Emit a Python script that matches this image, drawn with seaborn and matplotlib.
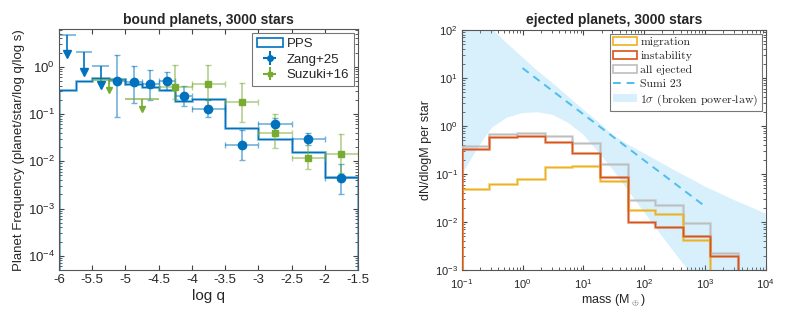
import numpy as np
import matplotlib
matplotlib.use("Agg")
import matplotlib.pyplot as plt
import seaborn as sns
from matplotlib.patches import Patch
from matplotlib.lines import Line2D

# ---- left panel: bound planets ----
pps_edges = [-6, -5.75, -5.5, -5.25, -5, -4.75, -4.5, -4.25, -4, -3.5, -3, -2.5, -2, -1.5]
pps_freq = [0.33, 0.50, 0.57, 0.54, 0.43, 0.37, 0.33, 0.19, 0.21, 0.050, 0.0296, 0.0155, 0.0046]

zang_logq = [-5.125, -4.875, -4.625, -4.375, -4.125, -3.75, -3.25, -2.75, -2.25, -1.75]
zang_freq = [0.50, 0.47, 0.44, 0.51, 0.24, 0.13, 0.022, 0.061, 0.030, 0.0044]
zang_hi = [1.77, 1.05, 0.85, 0.77, 0.40, 0.20, 0.046, 0.081, 0.040, 0.0087]
zang_lo = [0.088, 0.17, 0.20, 0.33, 0.15, 0.088, 0.0106, 0.044, 0.022, 0.0020]
zang_dx = [0.125, 0.125, 0.125, 0.125, 0.125, 0.25, 0.25, 0.25, 0.25, 0.25]

zang_lim_logq = [-5.875, -5.625, -5.375]
zang_lim_top = [4.8, 2.07, 1.05]
zang_lim_tip = [1.9, 0.78, 0.41]

suzuki_logq = [-4.25, -3.75, -3.25, -2.75, -2.25, -1.75]
suzuki_freq = [0.37, 0.44, 0.18, 0.039, 0.012, 0.0143]
suzuki_hi = [1.10, 1.10, 0.445, 0.10, 0.029, 0.037]
suzuki_lo = [0.21, 0.12, 0.067, 0.019, 0.0068, 0.0056]

suzuki_lim_logq = [-5.25, -4.75]
suzuki_lim_top = [0.52, 0.21]
suzuki_lim_tip = [0.33, 0.125]

# ---- right panel: ejected planets ----
mass_edges = [0.1, 0.285, 0.811, 2.31, 6.58, 18.7, 53.4, 152, 433, 1233, 3511, 10000]
migration = [0.049, 0.061, 0.080, 0.14, 0.147, 0.070, 0.0178, 0.0147, 0.0042, 0, 0]
instability = [0.33, 0.59, 0.63, 0.47, 0.28, 0.088, 0.0102, 0.0078, 0.0051, 0.00195, 0]
all_ejected = [0.39, 0.67, 0.71, 0.63, 0.44, 0.16, 0.029, 0.0224, 0.0094, 0.0023, 0]

sumi_mass = [1, 10, 100, 1000]
sumi_dndlogm = [16.1, 1.76, 0.193, 0.0213]

band_mass = [0.1, 0.178, 0.316, 0.562, 1, 1.78, 3.16, 5.62, 10, 17.8, 31.6, 56.2,
             100, 178, 316, 1000, 3162, 10000]
band_lo = [0.095, 0.33, 0.93, 1.5, 1.86, 1.93, 1.7, 1.17, 0.66, 0.28, 0.117, 0.043,
           0.016, 0.006, 0.0023, 0.00035, 5.6e-5, 8e-6]
band_hi = [420, 210, 105, 52, 27, 14, 7.8, 4.1, 2.2, 1.2, 0.63, 0.40,
           0.27, 0.18, 0.12, 0.055, 0.028, 0.015]

sns.set_style("ticks")
plt.rcParams['font.family'] = ['Liberation Sans', 'DejaVu Sans']
plt.rcParams['mathtext.fontset'] = 'cm'
plt.rcParams['axes.unicode_minus'] = False

blue = '#0072BD'
green = '#77AC30'
c_mig = '#EDB120'
c_ins = '#D95319'
c_all = '#BDBDBD'
c_sumi = '#4DBEEE'

fig = plt.figure(figsize=(7.92, 3.21), dpi=100)
ax1 = fig.add_axes([0.0745, 0.1589, 0.3775, 0.7498])
ax2 = fig.add_axes([0.583, 0.1589, 0.3838, 0.7476])

# left
ax1.set_yscale('log')
ax1.stairs(pps_freq, pps_edges, baseline=1e-9, color=blue, lw=2.2, alpha=0.35)
ax1.stairs(pps_freq, pps_edges, baseline=1e-9, color=blue, lw=1.0)

zf = np.array(zang_freq)
ax1.errorbar(zang_logq, zang_freq, xerr=zang_dx,
             yerr=[zf - np.array(zang_lo), np.array(zang_hi) - zf],
             fmt='none', ecolor=blue, alpha=0.55, elinewidth=1.2, capsize=2, capthick=1.0)
ax1.plot(zang_logq, zang_freq, 'o', color=blue, ms=6, zorder=5)

lt = np.array(zang_lim_top)
ax1.errorbar(zang_lim_logq, zang_lim_top, xerr=0.125,
             fmt='none', ecolor=blue, alpha=0.55, elinewidth=1.2, capsize=0)
ax1.errorbar(zang_lim_logq, zang_lim_top, yerr=[lt - np.array(zang_lim_tip), 0 * lt],
             fmt='none', ecolor=blue, elinewidth=1.2, capsize=0)
ax1.plot(zang_lim_logq, zang_lim_tip, 'v', color=blue, ms=5.5)

sf = np.array(suzuki_freq)
ax1.errorbar(suzuki_logq, suzuki_freq, xerr=0.25,
             yerr=[sf - np.array(suzuki_lo), np.array(suzuki_hi) - sf],
             fmt='none', ecolor=green, alpha=0.55, elinewidth=1.2, capsize=2, capthick=1.0)
ax1.plot(suzuki_logq, suzuki_freq, 's', color=green, ms=4, zorder=5)

st = np.array(suzuki_lim_top)
ax1.errorbar(suzuki_lim_logq, suzuki_lim_top, xerr=0.25,
             fmt='none', ecolor=green, alpha=0.75, elinewidth=1.2, capsize=0)
ax1.errorbar(suzuki_lim_logq, suzuki_lim_top, yerr=[st - np.array(suzuki_lim_tip), 0 * st],
             fmt='none', ecolor=green, elinewidth=1.2, capsize=0)
ax1.plot(suzuki_lim_logq, suzuki_lim_tip, 'v', color=green, ms=5)

ax1.set_xlim(-6, -1.5)
ax1.set_ylim(5e-5, 6.2)
ax1.set_xticks(np.arange(-6, -1.4, 0.5))
ax1.set_xticklabels(['-6', '-5.5', '-5', '-4.5', '-4', '-3.5', '-3', '-2.5', '-2', '-1.5'])
ax1.set_xlabel('log q', fontsize=11, labelpad=2)
ax1.set_ylabel('Planet Frequency (planet/star/log q/log s)', fontsize=9.5, labelpad=2)
ax1.set_title('bound planets, 3000 stars', fontsize=10, fontweight='bold', pad=4)

h_pps = Patch(facecolor='white', edgecolor=blue, lw=1.2)
h_zang = ax1.errorbar([], [], xerr=[], yerr=[], fmt='o', color=blue, ms=4,
                      ecolor=blue, capsize=2)
h_suz = ax1.errorbar([], [], xerr=[], yerr=[], fmt='s', color=green, ms=3.5,
                     ecolor=green, capsize=2)
leg1 = ax1.legend([h_pps, h_zang, h_suz], ['PPS', 'Zang+25', 'Suzuki+16'],
                  loc='upper right', fontsize=9.5, fancybox=False, framealpha=1,
                  edgecolor='#777777', borderaxespad=0.3, handlelength=2.0,
                  handletextpad=0.3, borderpad=0.35, labelspacing=0.25)
leg1.get_frame().set_linewidth(0.8)

# right
ax2.set_xscale('log')
ax2.set_yscale('log')
ax2.fill_between(band_mass, band_lo, band_hi, color=c_sumi, alpha=0.22, lw=0, zorder=1)
for vals, col in [(all_ejected, c_all), (migration, c_mig), (instability, c_ins)]:
    v = np.maximum(vals, 1e-9)
    ax2.stairs(v, mass_edges, baseline=1e-9, color=col, lw=2.2, alpha=0.4, zorder=2)
    ax2.stairs(v, mass_edges, baseline=1e-9, color=col, lw=1.0, zorder=3)
sns.lineplot(x=sumi_mass, y=sumi_dndlogm, ax=ax2, color=c_sumi, lw=1.4,
             linestyle=(0, (4, 3)), zorder=4)

ax2.set_xlim(0.1, 1e4)
ax2.set_ylim(1e-3, 1e2)
ax2.set_xlabel(r'mass (M$_\oplus$)', fontsize=9, labelpad=1)
ax2.set_ylabel('dN/dlogM per star', fontsize=9, labelpad=2)
ax2.set_title('ejected planets, 3000 stars', fontsize=10, fontweight='bold', pad=4)

handles2 = [Patch(facecolor='white', edgecolor=c_mig, lw=1.2),
            Patch(facecolor='white', edgecolor=c_ins, lw=1.2),
            Patch(facecolor='white', edgecolor=c_all, lw=1.2),
            Line2D([], [], color=c_sumi, lw=1.4, linestyle=(0, (4, 3))),
            Patch(facecolor=c_sumi, alpha=0.22, lw=0)]
labels2 = ['migration', 'instability', 'all ejected', 'Sumi 23',
           r'$1\sigma$ (broken power-law)']
leg2 = ax2.legend(handles2, labels2, loc='upper right', fancybox=False, framealpha=1,
                  edgecolor='#777777', borderaxespad=0.3, handlelength=2.0,
                  handletextpad=0.3, borderpad=0.3, labelspacing=0.3,
                  prop={'family': 'cmr10', 'size': 8.5})
leg2.get_frame().set_linewidth(0.8)

for ax in (ax1, ax2):
    ax.tick_params(which='both', direction='in', top=True, right=True,
                   color='#444444', pad=3)
    ax.tick_params(which='major', length=3.5)
    ax.tick_params(which='minor', length=2)
    for s in ax.spines.values():
        s.set_color('#555555')
        s.set_linewidth(0.8)
ax1.tick_params(labelsize=9.5)
ax2.tick_params(labelsize=8)
ax2.tick_params(axis='x', pad=5)

fig.savefig('out.png', dpi=100)
